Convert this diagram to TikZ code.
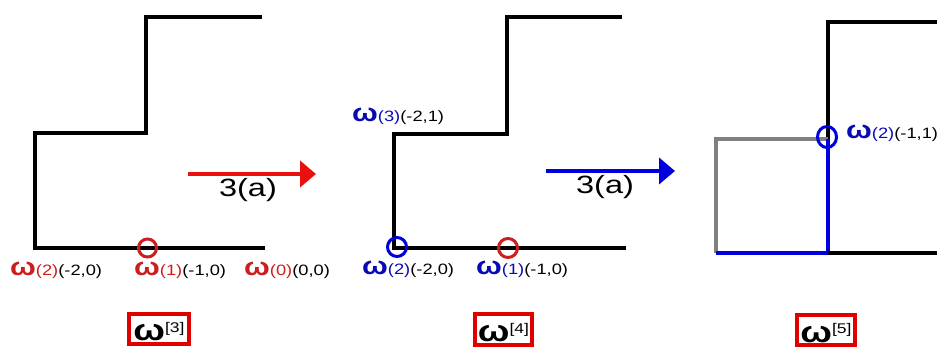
\documentclass[tikz,border=0pt]{standalone}
\usepackage{fontspec}
\setmainfont{Liberation Sans}
\usetikzlibrary{arrows.meta}
\definecolor{lred}{RGB}{205,30,30}
\definecolor{ared}{RGB}{235,15,15}
\definecolor{bred}{RGB}{225,0,0}
\definecolor{lblue}{RGB}{10,10,180}
\definecolor{ablue}{RGB}{0,0,220}
\definecolor{pgrey}{RGB}{128,128,128}
\newcommand\wglyph{{\fontsize{25}{25}\selectfont\bfseries ω}}
\newcommand\wlab[3]{\scalebox{1.22}[1]{{\color{#1}\wglyph\fontsize{15}{17}\selectfont(#2)}{\fontsize{15}{17}\selectfont(#3)}}}
\newcommand\wbox[1]{\scalebox{1.25}[1]{{\fontsize{30}{30}\selectfont\bfseries ω}\raisebox{8.5pt}{\fontsize{14}{15}\selectfont[#1]}}}
\begin{document}
\begin{tikzpicture}[x=1pt,y=-1pt,
  stair/.style={line width=4pt,line join=miter},
  ring/.style={line width=3pt},
  lab/.style={anchor=base west,inner sep=0pt},
  stepword/.style={font=\fontsize{25}{27}\selectfont,inner sep=0pt,xscale=1.3,transform shape},
  wframe/.style={draw=bred,line width=4pt,minimum width=#1,minimum height=30pt,inner sep=2pt,text height=24pt,text depth=0pt},
  bigarrow/.style={line width=4pt,-{Triangle[length=16pt,width=26pt]}}
]
\useasboundingbox (0,0) rectangle (937,347);
% ---------- panel 1 ----------
\coordinate (a1) at (262,17);
\coordinate (a2) at (146,17);
\coordinate (a3) at (146,133);
\coordinate (a4) at (35,133);
\coordinate (a5) at (35,248);
\coordinate (a6) at (265,248);
\draw[stair] (a1) -- (a2) -- (a3) -- (a4) -- (a5) -- (a6);
\draw[ring,lred] (147.5,248) circle[radius=9pt];
\node[lab] (l11) at (10,276) {\wlab{lred}{2}{-2,0}};
\node[lab] (l12) at (134,276) {\wlab{lred}{1}{-1,0}};
\node[lab] (l13) at (244,276) {\wlab{lred}{0}{0,0}};
% arrow 1
\coordinate (r1) at (188,174);
\coordinate (r2) at (316,174);
\draw[bigarrow,ared] (r1) -- (r2);
\node[stepword] (t1) at (248,190) {3(a)};
% ---------- panel 2 ----------
\coordinate (b1) at (622,17);
\coordinate (b2) at (507,17);
\coordinate (b3) at (507,134);
\coordinate (b4) at (394,134);
\coordinate (b5) at (394,248);
\coordinate (b6) at (626,248);
\draw[stair] (b1) -- (b2) -- (b3) -- (b4) -- (b5) -- (b6);
\draw[ring,ablue] (397,247) circle[radius=9.5pt];
\draw[ring,lred] (508,248) circle[radius=9.5pt];
\node[lab] (l21) at (362,275) {\wlab{lblue}{2}{-2,0}};
\node[lab] (l22) at (476,275) {\wlab{lblue}{1}{-1,0}};
\node[lab] (l23) at (352,122) {\wlab{lblue}{3}{-2,1}};
% arrow 2
\coordinate (s1) at (546,171);
\coordinate (s2) at (675,171);
\draw[bigarrow,ablue] (s1) -- (s2);
\node[stepword] (t2) at (605,187) {3(a)};
% ---------- panel 3 ----------
\coordinate (c1) at (937,22);
\coordinate (c2) at (828,22);
\coordinate (c3) at (828,139);
\coordinate (c4) at (716,139);
\coordinate (c5) at (716,253);
\coordinate (c6) at (828,253);
\coordinate (c7) at (937,253);
\draw[stair] (c1) -- (c2) -- (c3);
\draw[stair,pgrey] (c3) -- (c4) -- (c5);
\draw[stair,ablue] (c5) -- (c6) -- (c3);
\draw[stair] (c6) -- (c7);
\draw[ring,ablue] (827,137) ellipse[x radius=9.5pt,y radius=10.5pt];
\node[lab] (l31) at (846,139) {\wlab{lblue}{2}{-1,1)}};
% ---------- frames ----------
\node[wframe=60pt] (w3) at (159,329) {\wbox{3}};
\node[wframe=57pt] (w4) at (503.5,329.5) {\wbox{4}};
\node[wframe=58pt] (w5) at (826,330) {\wbox{5}};
\end{tikzpicture}
\end{document}
